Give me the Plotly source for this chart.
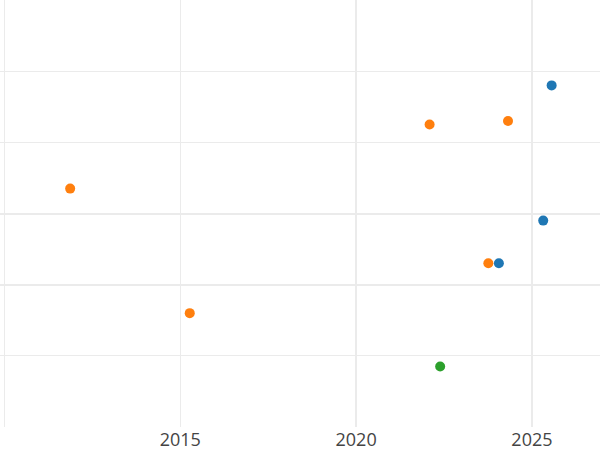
import plotly.graph_objects as go

# Data (decimal years, value)
blue_x = [2025.56, 2025.32, 2024.06]
blue_y = [4.80, 2.90, 2.30]
orange_x = [2011.87, 2015.27, 2022.09, 2023.76, 2024.32]
orange_y = [3.35, 1.60, 4.25, 2.30, 4.30]
green_x = [2022.39]
green_y = [0.85]

x_ticks = [2010, 2015, 2020, 2025]
x_tick_labels = ["2010", "2015", "2020", "2025"]
x_strong = [2020, 2025]
y_strong = [2, 3]

X_RANGE = [2009.875, 2026.935]
Y_RANGE = [0, 6]
GRID = "#ebebeb"

fig = go.Figure()
for xs, ys, col, name, xa, ya in [
    (blue_x, blue_y, "#1f77b4", "A", "x", "y"),
    (orange_x, orange_y, "#ff7f0e", "B", "x", "y"),
    (green_x, green_y, "#2ca02c", "C", "x2", "y2"),
]:
    fig.add_trace(go.Scatter(x=xs, y=ys, mode="markers", name=name,
                             xaxis=xa, yaxis=ya,
                             marker=dict(color=col, size=10)))

fig.update_layout(
    width=600, height=450,
    margin=dict(l=0, r=0, t=0, b=23, pad=0),
    paper_bgcolor="white", plot_bgcolor="white",
    showlegend=False,
    font=dict(family="Open Sans", size=18, color="#444"),
    xaxis=dict(range=X_RANGE, tickvals=x_ticks, ticktext=x_tick_labels,
               showgrid=True, gridcolor=GRID, gridwidth=1, zeroline=False,
               showline=False, ticks="", automargin=False),
    yaxis=dict(range=Y_RANGE, dtick=1, showticklabels=False,
               showgrid=True, gridcolor=GRID, gridwidth=1, zeroline=False,
               showline=False, ticks="", automargin=False),
    xaxis2=dict(range=X_RANGE, overlaying="x", tickvals=x_strong, showticklabels=False,
                showgrid=True, gridcolor=GRID, gridwidth=2, zeroline=False,
                showline=False, ticks="", automargin=False),
    yaxis2=dict(range=Y_RANGE, overlaying="y", tickvals=y_strong, showticklabels=False,
                showgrid=True, gridcolor=GRID, gridwidth=2, zeroline=False,
                showline=False, ticks="", automargin=False),
)

fig.write_html("out.html", config={"displayModeBar": False},
               post_script="document.body.style.margin='0px';document.body.style.overflow='hidden';")
